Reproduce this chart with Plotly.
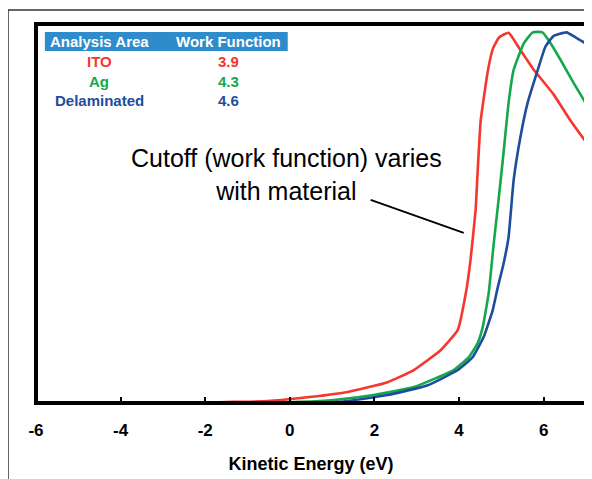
import plotly.graph_objects as go

# Kinetic energy (eV) and intensity (% of max)
ito_x = [-6, -2, -1.32, -0.52, 0.26, 1.37, 2.31, 2.93, 3.57, 3.97, 4.16, 4.27, 4.39, 4.44, 4.51, 4.68, 4.80, 4.95, 5.17, 5.45, 5.76, 6.23, 6.64, 6.99]
ito_y = [0, 0.1, 0.3, 0.5, 1.3, 2.9, 5.5, 8.7, 14.0, 19.3, 29.0, 37.7, 50.9, 61.2, 74.4, 87.6, 93.5, 96.5, 97.7, 93.1, 88.0, 81.5, 74.4, 69.0]

ag_x = [-6, -0.92, 0.26, 1.04, 1.98, 2.93, 3.87, 4.23, 4.44, 4.56, 4.70, 4.82, 4.91, 5.05, 5.17, 5.29, 5.53, 5.74, 5.97, 6.16, 6.40, 6.71, 6.99]
ag_y = [0, 0, 0.3, 0.8, 2.1, 4.2, 8.7, 12.1, 15.8, 20.1, 29.0, 42.2, 51.2, 65.9, 79.2, 87.9, 94.9, 97.8, 97.8, 95.0, 90.5, 84.4, 79.2]

del_x = [-6, 0.5, 1.2, 2.31, 3.26, 3.97, 4.32, 4.58, 4.79, 4.91, 5.05, 5.17, 5.29, 5.45, 5.62, 5.86, 6.04, 6.23, 6.54, 6.75, 6.99]
del_y = [0, 0, 0.3, 2.1, 4.7, 8.7, 12.1, 17.4, 24.3, 30.3, 36.7, 43.8, 58.8, 70.2, 79.2, 87.9, 94.0, 96.8, 97.8, 96.5, 94.9]

x_ticks = [-6, -4, -2, 0, 2, 4, 6]
areas = ["ITO", "Ag", "Delaminated"]
work_functions = ["3.9", "4.3", "4.6"]

RED = "#F5372E"
GREEN = "#14A84B"
BLUE = "#1E4D9B"
colors = [RED, GREEN, BLUE]

fig = go.Figure()
for xs, ys, c, n in [(ito_x, ito_y, RED, "ITO"), (ag_x, ag_y, GREEN, "Ag"), (del_x, del_y, BLUE, "Delaminated")]:
    fig.add_trace(go.Scatter(x=xs, y=ys, mode="lines", name=n,
                             line=dict(color=c, width=2.6, shape="spline", smoothing=0.4)))

font_family = "Liberation Sans, Arial, sans-serif"

# figure is placed at (8, 8) by the page's default body margin
shapes = [
    # plot frame
    dict(type="rect", xref="paper", yref="paper", x0=0, x1=1, y0=0, y1=1,
         line=dict(color="black", width=4)),
    # outer figure frame (left and top lines)
    dict(type="line", xref="paper", yref="paper", x0=-0.0509, x1=-0.0509, y0=-0.25, y1=1.037,
         line=dict(color="#333333", width=1.5)),
    dict(type="line", xref="paper", yref="paper", x0=-0.0509, x1=1.02, y0=1.037, y1=1.037,
         line=dict(color="#333333", width=1.5)),
    # table header band
    dict(type="rect", xref="x", yref="y", x0=-5.79, x1=-0.05, y0=92.9, y1=97.9,
         fillcolor="#2E8BCC", line=dict(width=0), layer="below"),
    # callout line
    dict(type="line", xref="x", yref="y", x0=1.91, y0=53.6, x1=4.11, y1=44.9,
         line=dict(color="black", width=1.8)),
]

annotations = [
    dict(x=-4.51, y=95.4, xref="x", yref="y", text="<b>Analysis Area</b>", showarrow=False,
         font=dict(family=font_family, size=15, color="white")),
    dict(x=-1.44, y=95.4, xref="x", yref="y", text="<b>Work Function</b>", showarrow=False,
         font=dict(family=font_family, size=15, color="white")),
    dict(x=-0.09, y=60.4, xref="x", yref="y",
         text="Cutoff (work function) varies<br>with material", showarrow=False,
         font=dict(family=font_family, size=25, color="black")),
]
row_y = [90.0, 84.8, 79.7]
for a, w, c, ry in zip(areas, work_functions, colors, row_y):
    annotations.append(dict(x=-4.51, y=ry, xref="x", yref="y", text=f"<b>{a}</b>", showarrow=False,
                            font=dict(family=font_family, size=15, color=c)))
    annotations.append(dict(x=-1.44, y=ry, xref="x", yref="y", text=f"<b>{w}</b>", showarrow=False,
                            font=dict(family=font_family, size=15, color=c)))

fig.update_layout(
    width=584, height=471,
    margin=dict(l=28, r=6, t=16, b=76, autoexpand=False),
    paper_bgcolor="white", plot_bgcolor="white",
    showlegend=False,
    shapes=shapes,
    annotations=annotations,
    xaxis=dict(range=[-6, 7], tickvals=x_ticks, ticktext=[str(t) for t in x_ticks],
               ticks="inside", ticklen=6, tickwidth=1.5, tickcolor="black",
               ticklabelstandoff=15,
               showgrid=False, zeroline=False, showline=False,
               tickfont=dict(family=font_family, size=17, color="black", weight="bold"),
               title=dict(text="<b>Kinetic Energy (eV)</b>", standoff=18,
                          font=dict(family=font_family, size=18, color="black"))),
    yaxis=dict(range=[0, 100], showticklabels=False, ticks="", showgrid=False,
               zeroline=False, showline=False),
)

fig.write_html("out.html")
